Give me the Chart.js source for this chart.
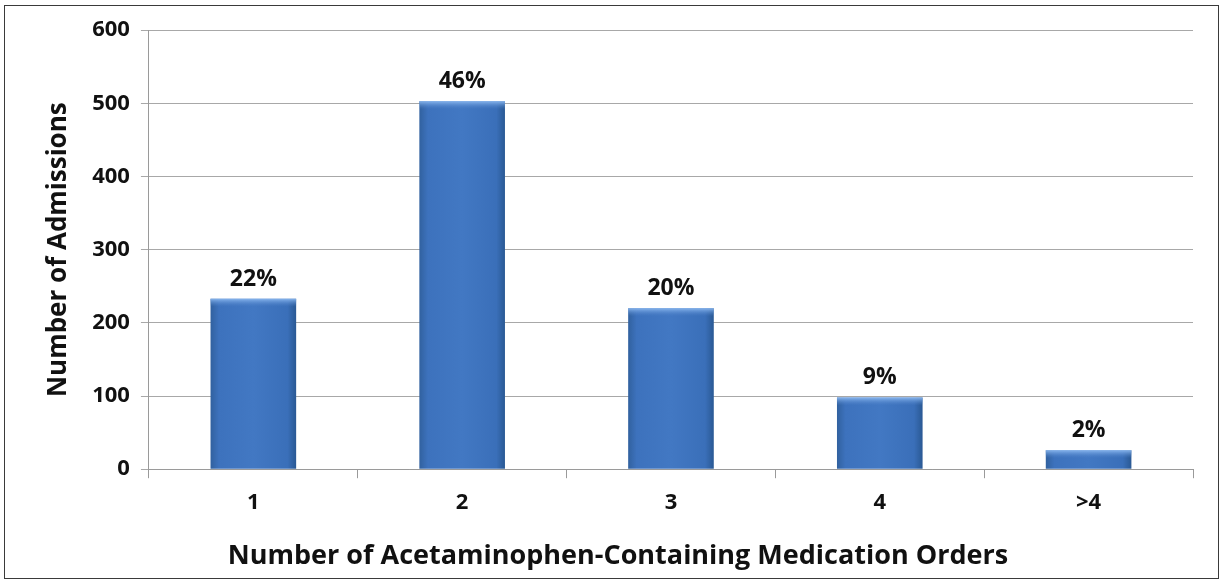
<!DOCTYPE html>
<html>
<head>
<meta charset="utf-8">
<script src="https://cdn.jsdelivr.net/npm/chart.js@4"></script>
<style>
  html, body { margin: 0; padding: 0; background: #fff; }
  #box {
    position: absolute; left: 4px; top: 5px;
    width: 1213px; height: 572px;
    border: 1px solid #3a3a3a;
  }
</style>
</head>
<body>
<div id="box"><canvas id="chart"></canvas></div>
<script>
const categories = ['1', '2', '3', '4', '>4'];
const admissions = [233, 503, 220, 98, 26];
const percentLabels = ['22%', '46%', '20%', '9%', '2%'];
const yTicks = [0, 100, 200, 300, 400, 500, 600];

const FONT = "'Open Sans', 'Noto Sans', sans-serif";

// shaded bar fill, darker at the sides like the original
const barFill = (context) => {
  const chart = context.chart;
  const x = chart.scales.x;
  if (!x || context.dataIndex === undefined) return '#3f73bf';
  const cx = x.getPixelForValue(context.dataIndex);
  const half = (x.width / categories.length) * 0.41 / 2;
  if (!isFinite(cx) || !isFinite(half) || half <= 0) return '#3f73bf';
  const g = chart.ctx.createLinearGradient(cx - half, 0, cx + half, 0);
  g.addColorStop(0, '#31619f');
  g.addColorStop(0.1, '#3d72bd');
  g.addColorStop(0.5, '#4278c3');
  g.addColorStop(0.9, '#3a6fb9');
  g.addColorStop(1, '#2a5994');
  return g;
};

const percentPlugin = {
  id: 'percentLabels',
  afterDatasetsDraw(chart) {
    const ctx = chart.ctx;
    const meta = chart.getDatasetMeta(0);
    ctx.save();
    ctx.font = 'bold 23px ' + FONT;
    ctx.textAlign = 'center';
    ctx.textBaseline = 'alphabetic';
    meta.data.forEach((bar, i) => {
      // light cap at the top of each bar
      const w = bar.width;
      const cap = ctx.createLinearGradient(0, bar.y, 0, bar.y + 8);
      cap.addColorStop(0, 'rgba(140,185,240,0.95)');
      cap.addColorStop(1, 'rgba(80,130,200,0)');
      ctx.fillStyle = cap;
      ctx.fillRect(bar.x - w / 2, bar.y, w, Math.min(8, bar.base - bar.y));
      ctx.fillStyle = '#111';
      ctx.fillText(percentLabels[i], bar.x, bar.y - 13);
    });
    ctx.restore();
  }
};

new Chart(document.getElementById('chart'), {
  type: 'bar',
  data: {
    labels: categories,
    datasets: [{
      data: admissions,
      backgroundColor: barFill,
      borderWidth: 0,
      categoryPercentage: 0.82,
      barPercentage: 0.5
    }]
  },
  options: {
    responsive: true,
    maintainAspectRatio: false,
    animation: false,
    layout: { padding: { left: 38, right: 25, top: 24, bottom: 0 } },
    plugins: {
      legend: { display: false },
      tooltip: { enabled: false },
      title: {
        display: true,
        position: 'bottom',
        text: 'Number of Acetaminophen-Containing Medication Orders',
        color: '#111',
        font: { family: FONT, weight: 'bold', size: 27 },
        padding: { top: 14, bottom: 5 }
      }
    },
    scales: {
      x: {
        offset: true,
        grid: {
          offset: true,
          drawOnChartArea: false,
          color: '#9a9a9a',
          tickLength: 9
        },
        border: { color: '#9a9a9a', width: 1 },
        ticks: {
          color: '#111',
          font: { family: FONT, weight: 'bold', size: 22 },
          padding: 11
        }
      },
      y: {
        min: 0,
        max: 600,
        afterBuildTicks: (axis) => { axis.ticks = yTicks.map(v => ({ value: v })); },
        grid: {
          color: '#a8a8a8',
          tickLength: 8
        },
        border: { color: '#9a9a9a', width: 1 },
        ticks: {
          color: '#111',
          font: { family: FONT, weight: 'bold', size: 22 },
          padding: 11
        },
        title: {
          display: true,
          text: 'Number of Admissions',
          color: '#111',
          font: { family: FONT, weight: 'bold', size: 26 },
          padding: { top: 0, bottom: 7 }
        }
      }
    }
  },
  plugins: [percentPlugin]
});
</script>
</body>
</html>
